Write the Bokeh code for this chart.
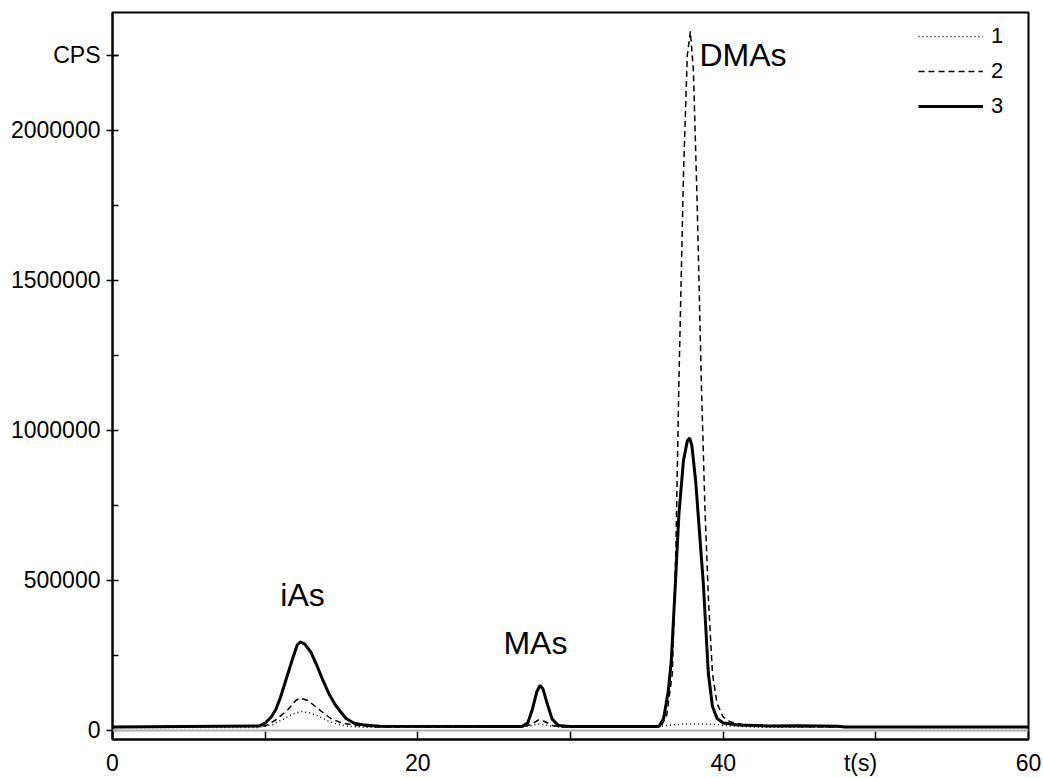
from bokeh.plotting import figure
from bokeh.models import Range1d, FixedTicker, Label, Span, Legend, LegendItem
from bokeh.embed import file_html
from bokeh.resources import INLINE

# ---- data ----
t1 = [0, 9.5, 10.5, 11.2, 11.8, 12.4, 13.0, 13.6, 14.2, 14.8, 15.5, 16.5,
      26.8, 27.5, 28.0, 28.5, 29.3, 35.5, 36.5, 37.5, 38.5, 39.5, 40.5, 42, 60]
v1 = [10000, 10000, 20000, 38000, 55000, 63000, 58000, 45000, 30000, 20000, 14000, 11000,
      11000, 18000, 22000, 17000, 11000, 11000, 18000, 22000, 22000, 20000, 15000, 11000, 10000]

t2 = [0, 10.0, 10.7, 11.5, 12.0, 12.3, 12.8, 13.6, 14.3, 15.0, 15.8, 16.5, 17.5,
      26.8, 27.4, 27.9, 28.3, 28.8, 29.5,
      35.7, 36.0, 36.3, 36.67, 36.9, 37.1, 37.4, 37.65, 37.85, 38.05, 38.3, 38.57,
      38.8, 39.05, 39.3, 39.6, 40.0, 40.5, 41.5, 43, 47, 60]
v2 = [12000, 15000, 35000, 70000, 100000, 108000, 100000, 67000, 40000, 25000, 18000, 14000, 12000,
      12000, 20000, 35000, 30000, 17000, 12000,
      12000, 20000, 50000, 190000, 600000, 1160000, 1850000, 2250000, 2330000, 2200000, 1750000, 1160000,
      750000, 420000, 190000, 90000, 45000, 28000, 18000, 14000, 12000, 12000]

t3 = [0, 9.6, 10.0, 10.4, 10.7, 11.0, 11.4, 11.8, 12.1, 12.3, 12.6, 13.0, 13.4, 13.8, 14.2,
      14.6, 14.9, 15.3, 15.8, 16.5, 17.5,
      26.8, 27.2, 27.5, 27.8, 28.0, 28.2, 28.5, 28.8, 29.2, 30.0,
      35.8, 36.1, 36.4, 36.6, 36.87, 37.1, 37.4, 37.65, 37.8, 37.95, 38.2, 38.45, 38.7,
      39.03, 39.3, 39.6, 40.0, 41.0, 43.0, 45.0, 47.5, 48, 60]
v3 = [12000, 15000, 25000, 45000, 70000, 110000, 175000, 240000, 285000, 295000, 288000, 260000,
      215000, 165000, 120000, 85000, 65000, 40000, 25000, 18000, 14000,
      13000, 25000, 70000, 130000, 150000, 138000, 85000, 38000, 17000, 13000,
      13000, 40000, 130000, 230000, 490000, 720000, 900000, 965000, 975000, 950000, 830000,
      660000, 490000, 190000, 80000, 40000, 25000, 18000, 15000, 16000, 14000, 12000, 12000]

series_labels = ["1", "2", "3"]
peak_names = ["iAs", "MAs", "DMAs"]
x_ticks = [0, 20, 40, 60]
x_minor = [10, 30, 50]
x_title_pos = 49
y_ticks = [0, 500000, 1000000, 1500000, 2000000]
y_minor = [250000, 750000, 1250000, 1750000, 2250000]
y_title_pos = 2250000
x_title = "t(s)"
y_title = "CPS"

FONT = "Liberation Sans"

p = figure(width=1043, height=778, output_backend="svg", toolbar_location=None,
           x_range=Range1d(0, 60), y_range=Range1d(-30000, 2393000),
           min_border_left=112, min_border_right=15, min_border_top=12, min_border_bottom=39)
p.background_fill_color = "white"
p.border_fill_color = "white"
p.outline_line_color = "black"
p.outline_line_width = 2
p.grid.visible = False

# x axis: every tick mark drawn as a minor tick; labelled positions incl. the axis title
p.xaxis.ticker = FixedTicker(ticks=x_ticks + [x_title_pos], minor_ticks=x_ticks + x_minor)
p.xaxis.major_label_overrides = {x_title_pos: x_title}
# y axis: axis title shown as the label at the top tick position
p.yaxis.ticker = FixedTicker(ticks=y_ticks + [y_title_pos], minor_ticks=y_minor)
p.yaxis.major_label_overrides = {y_title_pos: y_title}
for ax in (p.xaxis, p.yaxis):
    ax.axis_line_width = 2
    ax.major_tick_line_width = 1.5
    ax.minor_tick_line_width = 1.5
    ax.major_label_text_font = FONT
    ax.major_label_text_font_size = "23px"
    ax.major_label_text_color = "black"
p.xaxis.major_tick_in = 0
p.xaxis.major_tick_out = 0
p.xaxis.minor_tick_in = 8
p.xaxis.minor_tick_out = 0
p.xaxis.major_label_standoff = 10
p.yaxis.major_tick_in = 6
p.yaxis.major_tick_out = 6
p.yaxis.minor_tick_in = 6
p.yaxis.minor_tick_out = 0
p.yaxis.major_label_standoff = 6
p.yaxis.formatter.use_scientific = False

p.add_layout(Span(location=0, dimension="width", line_color="#b0b0b0", line_width=2))

r1 = p.line(t1, v1, line_color="black", line_width=1.5, line_dash="1 3")
r2 = p.line(t2, v2, line_color="black", line_width=1.5, line_dash="6 4")
r3 = p.line(t3, v3, line_color="black", line_width=3)

legend = Legend(items=[LegendItem(label=series_labels[0], renderers=[r1]),
                       LegendItem(label=series_labels[1], renderers=[r2]),
                       LegendItem(label=series_labels[2], renderers=[r3])],
                location=(806, 617), padding=0, margin=0, spacing=3,
                glyph_width=65, glyph_height=32, label_height=32, label_standoff=8,
                label_text_font=FONT, label_text_font_size="22px", label_text_color="black",
                border_line_color=None, background_fill_alpha=0)
p.add_layout(legend)

# peak annotations
common = dict(text_font=FONT, text_font_size="32px", text_color="black", text_baseline="middle")
p.add_layout(Label(x=12.45, y=453000, text=peak_names[0], text_align="center", **common))
p.add_layout(Label(x=27.7, y=290000, text=peak_names[1], text_align="center", **common))
p.add_layout(Label(x=38.45, y=2250000, text=peak_names[2], text_align="left", **common))

open("out.html", "w").write(file_html(p, INLINE))
